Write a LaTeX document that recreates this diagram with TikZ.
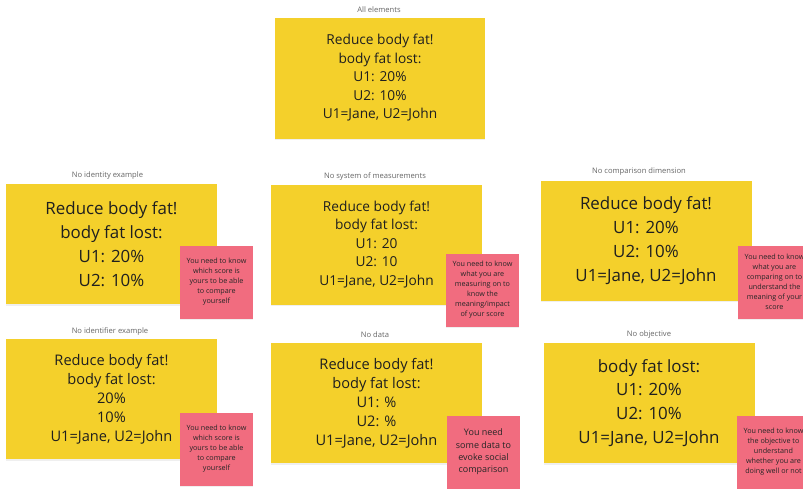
\documentclass[tikz,border=0pt]{standalone}
\usepackage{fontspec}
\setmainfont{Open Sans}
\usetikzlibrary{shadows}
\definecolor{stickyyellow}{HTML}{F4D02B}
\definecolor{stickypink}{HTML}{F16C7F}
\definecolor{captiongray}{HTML}{666666}
\begin{document}
\begin{tikzpicture}[x=1pt, y=-1pt,
  sticky/.style={fill=stickyyellow, minimum width=211pt, minimum height=120pt, align=center, text=black!88, drop shadow={shadow xshift=0pt, shadow yshift=-1.5pt, opacity=0.12}},
  note/.style={fill=stickypink, minimum width=73pt, minimum height=73pt, align=center, text=black!85, inner sep=0pt, drop shadow={shadow xshift=0pt, shadow yshift=-1pt, opacity=0.12}},
  caption/.style={text=captiongray, font=\fontsize{7.6}{9}\selectfont, inner sep=0pt},
  small/.style={font=\fontsize{13.7}{18.5}\selectfont},
  mid/.style={font=\fontsize{14.6}{19}\selectfont},
  big/.style={font=\fontsize{16.9}{23.8}\selectfont},
  notetext/.style={font=\fontsize{7.2}{10}\selectfont},
  notebig/.style={font=\fontsize{9}{12.3}\selectfont}]
\useasboundingbox[fill=white] (0,0) rectangle (803,488);
% top: everything in place
\node[caption] (t0) at (379,10) {All elements};
\node[sticky, small, minimum width=210pt, minimum height=121pt] (b0) at (380,78) {Reduce body fat!\\body fat lost:\\U1: 20\%\\U2: 10\%\\U1=Jane, U2=John};
% first row
\node[caption] (t1) at (107.5,176) {No identity example};
\node[sticky, big] (b1) at (111.5,244) {Reduce body fat!\\body fat lost:\\U1: 20\%\\U2: 10\%};
\node[note, notetext] (n1) at (216.5,282) {You need to know\\which score is\\yours to be able\\to compare\\yourself};
\node[caption] (t2) at (375,176) {No system of measurements};
\node[sticky, small] (b2) at (376.5,244.5) {Reduce body fat!\\body fat lost:\\U1: 20\\U2: 10\\U1=Jane, U2=John};
\node[note, notetext] (n2) at (482.5,290) {You need to know\\what you are\\measuring on to\\know the\\meaning/impact\\of your score};
\node[caption] (t3) at (639,172) {No comparison dimension};
\node[sticky, big] (b3) at (646,240.5) {Reduce body fat!\\U1: 20\%\\U2: 10\%\\U1=Jane, U2=John};
\node[note, notetext] (n3) at (774.5,282) {You need to know\\what you are\\comparing on to\\understand the\\meaning of your\\score};
% second row
\node[caption] (t4) at (110,331) {No identifier example};
\node[sticky, mid] (b4) at (111.5,399) {Reduce body fat!\\body fat lost:\\20\%\\10\%\\U1=Jane, U2=John};
\node[note, notetext] (n4) at (216.5,449) {You need to know\\which score is\\yours to be able\\to compare\\yourself};
\node[caption] (t5) at (375,335) {No data};
\node[sticky, mid] (b5) at (376.5,403) {Reduce body fat!\\body fat lost:\\U1: \%\\U2: \%\\U1=Jane, U2=John};
\node[note, notebig] (n5) at (483.5,452) {You need\\some data to\\evoke social\\comparison};
\node[caption] (t6) at (649,335) {No objective};
\node[sticky, big] (b6) at (649,403) {body fat lost:\\U1: 20\%\\U2: 10\%\\U1=Jane, U2=John};
\node[note, notetext] (n6) at (773.5,452) {You need to know\\the objective to\\understand\\whether you are\\doing well or not};
\end{tikzpicture}
\end{document}
